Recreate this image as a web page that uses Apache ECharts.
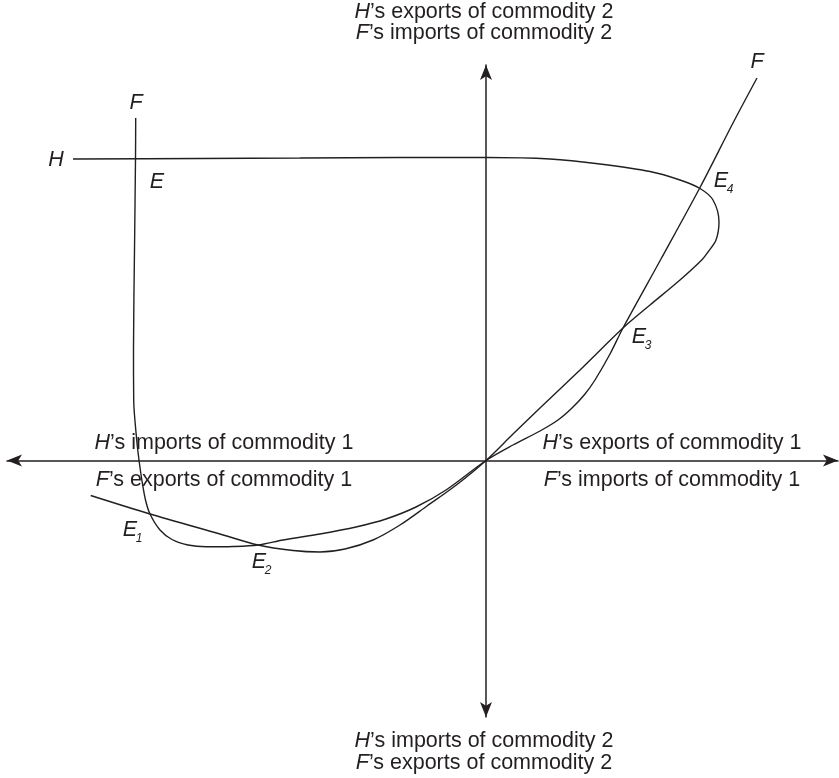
<!DOCTYPE html>
<html>
<head>
<meta charset="utf-8">
<title>Offer curves</title>
<script src="https://cdn.jsdelivr.net/npm/echarts@6/dist/echarts.min.js"></script>
<style>
  html, body { margin: 0; padding: 0; background: #fff; }
  #chart { width: 839px; height: 778px; }
</style>
</head>
<body>
<div id="chart"></div>
<script>
// offer curves; origin of trade at (0, 0), x to the right, y up
const fCurve = [
  [-350.3, 342.5], [-350.5, 301.5], [-351.5, 210.5], [-352.5, 110.5], [-352.3, 60.5],
  [-349.3, 20.5], [-347, 0.5], [-344, -20.5], [-340.5, -39.5], [-336, -53.5],
  [-326, -69.5], [-314, -79], [-298, -84.5], [-280, -86.3], [-253, -86],
  [-228, -84.5], [-203, -79.5], [-166, -73.5], [-130, -66.5], [-100, -58.5],
  [-70, -46.5], [-40, -29.5], [0, 0], [27, 15.5], [54, 29.5],
  [72, 40.5], [86, 52.5], [99, 66.5], [109, 80.5], [124, 106.5],
  [137, 132.5], [175, 201.5], [214, 273], [247, 337.5], [271, 382.5]
];
const hCurve = [
  [-413, 301.5], [-286, 302], [-186, 302.5], [-86, 303], [1, 303],
  [64, 301.5], [114, 296.5], [164, 289], [194, 280.5], [214, 272],
  [227, 260.5], [233, 238.5], [230, 220.5], [222, 208.5], [215.7, 200.5],
  [194, 180.5], [164, 155.5], [137, 132.5], [94, 90.5], [54, 52.5],
  [27, 26.5], [0, 0], [-29, -24], [-59, -45.5], [-86, -64.5],
  [-113, -79.5], [-141, -88.5], [-166, -91.5], [-193, -90], [-228, -84.5],
  [-266, -73.5], [-336, -53.5], [-395.3, -35]
];

// axis captions (first letter is the country, set in italics)
const topCaption = ['H’s exports of commodity 2', 'F’s imports of commodity 2'];
const bottomCaption = ['H’s imports of commodity 2', 'F’s exports of commodity 2'];
const leftCaption = ['H’s imports of commodity 1', 'F’s exports of commodity 1'];
const rightCaption = ['H’s exports of commodity 1', 'F’s imports of commodity 1'];

// curve names and equilibrium points
const curveNames = ['H', 'F', 'F'];
const equilibria = ['E', 'E1', 'E2', 'E3', 'E4'];

const INK = '#231f20';
const FONT = '"Liberation Sans", Arial, Helvetica, sans-serif';
const SIZE = 21.5;

function caption(text, x, y) {
  return {
    type: 'text', x: x, y: y, silent: true,
    style: {
      text: '{i|' + text[0] + '}' + text.slice(1),
      fill: INK, fontSize: SIZE, fontFamily: FONT,
      align: 'center', verticalAlign: 'middle',
      textAlign: 'center', textVerticalAlign: 'middle',
      rich: { i: { fontStyle: 'italic', fontSize: SIZE, fontFamily: FONT, fill: INK } }
    }
  };
}

function italic(text, x, y, size) {
  return {
    type: 'text', x: x, y: y, silent: true,
    style: {
      text: text, fill: INK, fontSize: size, fontStyle: 'italic', fontFamily: FONT,
      align: 'center', verticalAlign: 'middle',
      textAlign: 'center', textVerticalAlign: 'middle'
    }
  };
}

// E with an optional subscript digit
function point(name, x, y) {
  const els = [italic(name[0], x, y, SIZE)];
  if (name.length > 1) els.push(italic(name.slice(1), x + 9, y + 9, 12));
  return els;
}

const chart = echarts.init(document.getElementById('chart'));

const graphic = [].concat(
  caption(topCaption[0], 484, 12), caption(topCaption[1], 484, 33),
  caption(bottomCaption[0], 484, 741), caption(bottomCaption[1], 484, 763),
  caption(leftCaption[0], 224, 443), caption(leftCaption[1], 224, 480),
  caption(rightCaption[0], 672, 443), caption(rightCaption[1], 672, 480),
  italic(curveNames[0], 56, 160, SIZE),
  italic(curveNames[1], 136, 103, SIZE),
  italic(curveNames[2], 757, 62, SIZE),
  point(equilibria[0], 157, 182),
  point(equilibria[1], 130, 530),
  point(equilibria[2], 259, 562),
  point(equilibria[3], 639, 337),
  point(equilibria[4], 721, 181)
);

// arrow heads sit at the very ends of both axes
const axisLine = {
  show: true,
  onZero: true,
  symbol: ['arrow', 'arrow'],
  symbolSize: [9, 15],
  lineStyle: { color: INK, width: 1.5 }
};

const curveStyle = { color: INK, width: 1.4 };

chart.setOption({
  animation: false,
  backgroundColor: '#fff',
  grid: { left: 7, right: 1, top: 65, bottom: 61 },
  xAxis: {
    type: 'value', min: -479, max: 352,
    axisLine: axisLine,
    axisTick: { show: false }, axisLabel: { show: false }, splitLine: { show: false }
  },
  yAxis: {
    type: 'value', min: -256.5, max: 395.5,
    axisLine: axisLine,
    axisTick: { show: false }, axisLabel: { show: false }, splitLine: { show: false }
  },
  series: [
    { name: 'F', type: 'line', data: fCurve, smooth: 0.3, symbol: 'none', lineStyle: curveStyle, itemStyle: { color: INK } },
    { name: 'H', type: 'line', data: hCurve, smooth: 0.3, symbol: 'none', lineStyle: curveStyle, itemStyle: { color: INK } }
  ],
  graphic: graphic
});
</script>
</body>
</html>
